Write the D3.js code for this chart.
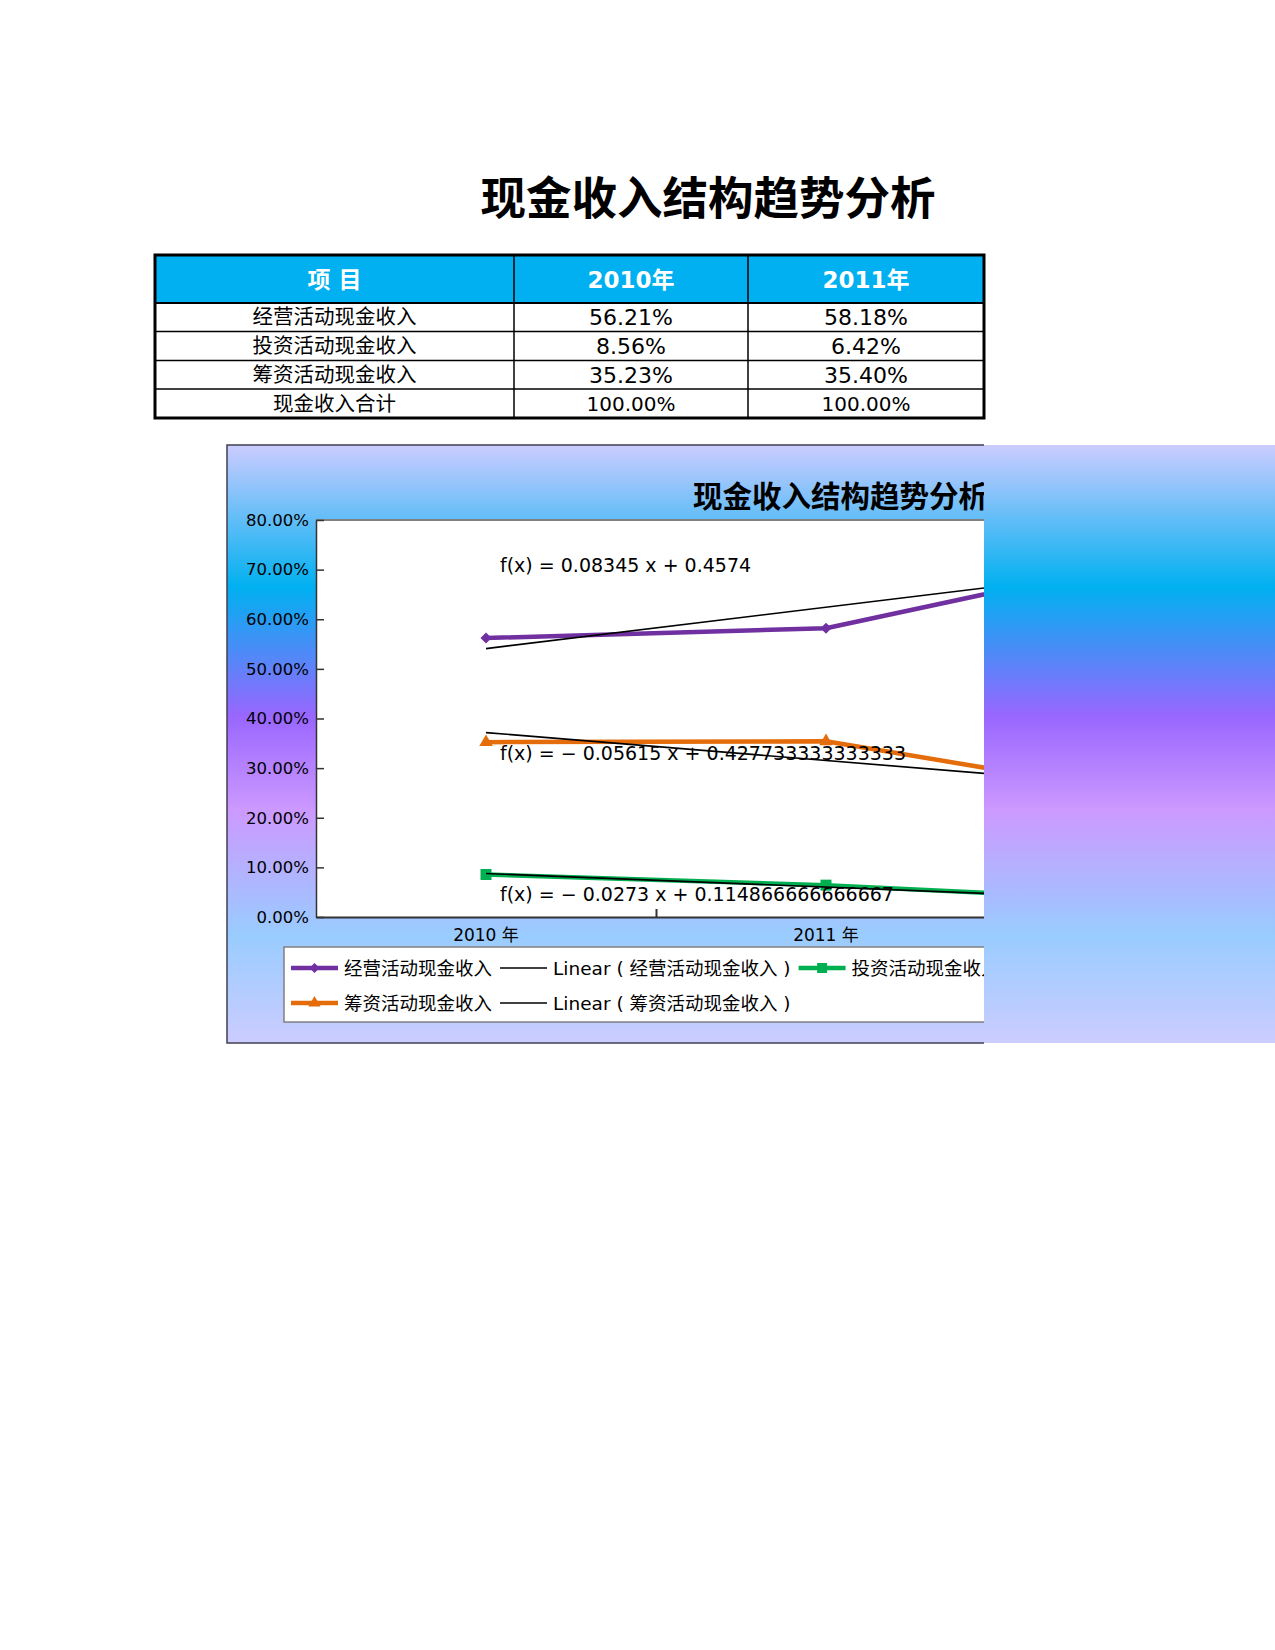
<!DOCTYPE html>
<html>
<head>
<meta charset="utf-8">
<script src="https://cdn.jsdelivr.net/npm/d3@7"></script>
<style>
  body { margin: 0; background: #fff; }
  svg { display: block; }
  text { font-family: "DejaVu Sans", "Noto Sans CJK SC", sans-serif; }
</style>
</head>
<body>
<div id="chart"></div>
<script>
// ---- data ----
var categories = ["2010 年", "2011 年", "2012 年"];
var seriesNames = ["经营活动现金收入", "投资活动现金收入", "筹资活动现金收入"];
var operating = [0.5621, 0.5818, 0.7290];
var investing = [0.0856, 0.0642, 0.0310];
var financing = [0.3523, 0.3540, 0.2400];
var trendSlope = [0.08345, -0.0273, -0.05615];
var trendIntercept = [0.4574, 0.114866666666667, 0.427733333333333];
var trendLabels = [
  "f(x) = 0.08345 x + 0.4574",
  "f(x) = \u2212 0.0273 x + 0.114866666666667",
  "f(x) = \u2212 0.05615 x + 0.427733333333333"
];
var tableYears = ["2010年", "2011年"];
var totalLabel = "现金收入合计";
var totalValues = [1, 1];
var yTicks = [0, 0.1, 0.2, 0.3, 0.4, 0.5, 0.6, 0.7, 0.8];

var seriesValues = [operating, investing, financing];
var colors = ["#7030A0", "#00B050", "#E46C0A"];
var markers = ["diamond", "square", "triangle"];

var width = 1275, height = 1650;
var svg = d3.select("#chart").append("svg").attr("width", width).attr("height", height);
svg.append("rect").attr("width", width).attr("height", height).attr("fill", "#fff");

// ---- page title ----
svg.append("text").attr("x", 708).attr("y", 215).attr("text-anchor", "middle")
  .attr("font-size", 45.5).attr("font-weight", "bold").text("现金收入结构趋势分析");

// ---- table ----
var colX = [155, 514, 748, 984];
var rowY = [255, 303, 331.5, 360.5, 389, 418];
var pct = d3.format(".2%");

var table = svg.append("g");
table.append("rect").attr("x", colX[0]).attr("y", rowY[0])
  .attr("width", colX[3] - colX[0]).attr("height", rowY[1] - rowY[0]).attr("fill", "#00B0F0");

var header = ["项 目"].concat(tableYears);
table.selectAll(".hd").data(header).enter().append("text")
  .attr("x", function(d, i) { return (colX[i] + colX[i + 1]) / 2; })
  .attr("y", (rowY[0] + rowY[1]) / 2 + 9)
  .attr("text-anchor", "middle").attr("fill", "#fff")
  .attr("font-size", 23).attr("font-weight", "bold").text(function(d) { return d; });

var rows = seriesNames.map(function(n, i) {
  return { label: n, values: tableYears.map(function(y, j) { return seriesValues[i][j]; }), big: true };
});
rows.push({ label: totalLabel, values: totalValues, big: false });

rows.forEach(function(r, i) {
  var cy = (rowY[i + 1] + rowY[i + 2]) / 2;
  table.append("text").attr("x", (colX[0] + colX[1]) / 2).attr("y", cy + 7)
    .attr("text-anchor", "middle").attr("font-size", 20.5).text(r.label);
  r.values.forEach(function(v, j) {
    table.append("text").attr("x", (colX[j + 1] + colX[j + 2]) / 2).attr("y", cy + (r.big ? 8 : 7))
      .attr("text-anchor", "middle").attr("font-size", r.big ? 22 : 20).text(pct(v));
  });
});

// grid lines
rowY.slice(1, -1).forEach(function(y, i) {
  table.append("line").attr("x1", colX[0]).attr("x2", colX[3]).attr("y1", y).attr("y2", y)
    .attr("stroke", "#000").attr("stroke-width", i === 0 ? 2 : 1.5);
});
colX.slice(1, -1).forEach(function(x) {
  table.append("line").attr("x1", x).attr("x2", x).attr("y1", rowY[0]).attr("y2", rowY[5])
    .attr("stroke", "#000").attr("stroke-width", 1.5);
});
table.append("rect").attr("x", colX[0]).attr("y", rowY[0])
  .attr("width", colX[3] - colX[0]).attr("height", rowY[5] - rowY[0])
  .attr("fill", "none").attr("stroke", "#000").attr("stroke-width", 3);

// ---- chart ----
var chartLeft = 227, chartTop = 445, chartBottom = 1043, clipRight = 984;
var defs = svg.append("defs");
var grad = defs.append("linearGradient").attr("id", "bg").attr("x1", 0).attr("y1", 0).attr("x2", 0).attr("y2", 1);
[[0, "#ccccff"], [0.238, "#00b0f0"], [0.453, "#9966ff"], [0.61, "#cc99ff"], [0.82, "#99ccff"], [1, "#ccccff"]]
  .forEach(function(s) { grad.append("stop").attr("offset", s[0]).attr("stop-color", s[1]); });
defs.append("clipPath").attr("id", "clip").append("rect")
  .attr("x", 0).attr("y", 0).attr("width", clipRight).attr("height", height);

svg.append("rect").attr("x", chartLeft).attr("y", chartTop)
  .attr("width", width - chartLeft).attr("height", chartBottom - chartTop).attr("fill", "url(#bg)");

var chart = svg.append("g").attr("clip-path", "url(#clip)");
chart.append("rect").attr("x", chartLeft).attr("y", chartTop)
  .attr("width", 1400 - chartLeft).attr("height", chartBottom - chartTop)
  .attr("fill", "none").attr("stroke", "#404050").attr("stroke-width", 1.5);

chart.append("text").attr("x", 693).attr("y", 507).attr("font-size", 29.5)
  .attr("font-weight", "bold").text("现金收入结构趋势分析");

var plotLeft = 316, plotTop = 520, plotBottom = 917, band = 340;
var plotRight = plotLeft + band * categories.length;
var x = d3.scaleBand().domain(categories).range([plotLeft, plotRight]);
var xi = d3.scaleLinear().domain([0.5, categories.length + 0.5]).range([plotLeft, plotRight]);
var y = d3.scaleLinear().domain([0, 0.8]).range([plotBottom, plotTop]);

chart.append("rect").attr("x", plotLeft).attr("y", plotTop)
  .attr("width", plotRight - plotLeft).attr("height", plotBottom - plotTop).attr("fill", "#fff");
chart.append("line").attr("x1", plotLeft).attr("x2", plotRight).attr("y1", plotTop).attr("y2", plotTop)
  .attr("stroke", "#808080").attr("stroke-width", 2);

var yAxis = chart.append("g").attr("transform", "translate(" + plotLeft + ",0)")
  .call(d3.axisLeft(y).tickValues(yTicks).tickFormat(pct).tickSizeInner(-8).tickSizeOuter(0).tickPadding(7));
yAxis.selectAll("text").attr("font-size", 16.5).attr("fill", "#000").attr("font-family", null);
yAxis.selectAll("line, path").attr("stroke", "#333").attr("stroke-width", 1.5);

var xTicks = chart.append("g").attr("transform", "translate(0," + plotBottom + ")")
  .call(d3.axisBottom(xi).tickValues([1.5, 2.5]).tickFormat("").tickSizeInner(-8).tickSizeOuter(0));
xTicks.selectAll("line, path").attr("stroke", "#333").attr("stroke-width", 2);
var xAxis = chart.append("g").attr("transform", "translate(0," + plotBottom + ")")
  .call(d3.axisBottom(x).tickSize(0).tickPadding(12));
xAxis.select("path").remove();
xAxis.selectAll("text").attr("font-size", 17).attr("fill", "#000").attr("font-family", null);

function markerPath(type, r) {
  if (type === "diamond") return "M0," + (-r) + "L" + r + ",0L0," + r + "L" + (-r) + ",0Z";
  if (type === "square") return d3.symbol().type(d3.symbolSquare).size(4 * r * r)();
  return d3.symbol().type(d3.symbolTriangle).size(r * r * 2.6)();
}

var line = d3.line()
  .x(function(d, i) { return x(categories[i]) + x.bandwidth() / 2; })
  .y(function(d) { return y(d); });

seriesValues.forEach(function(vals, s) {
  chart.append("path").datum(vals).attr("d", line).attr("fill", "none")
    .attr("stroke", colors[s]).attr("stroke-width", 4.5).attr("stroke-linejoin", "round");
  chart.selectAll(".m" + s).data(vals).enter().append("path")
    .attr("transform", function(d, i) {
      return "translate(" + (x(categories[i]) + x.bandwidth() / 2) + "," + y(d) + ")";
    })
    .attr("d", markerPath(markers[s], 5.5)).attr("fill", colors[s]);
});

// trend lines from the fitted equations
seriesValues.forEach(function(vals, s) {
  var pts = [1, vals.length].map(function(k) { return [xi(k), y(trendSlope[s] * k + trendIntercept[s])]; });
  chart.append("path").attr("d", d3.line()(pts)).attr("fill", "none")
    .attr("stroke", "#000").attr("stroke-width", 1.6);
});

var labelY = [572, 901, 760];
trendLabels.forEach(function(t, s) {
  chart.append("text").attr("x", 500).attr("y", labelY[s]).attr("font-size", 19).text(t);
});

// ---- legend ----
var legend = chart.append("g");
legend.append("rect").attr("x", 284).attr("y", 947).attr("width", 1100).attr("height", 75)
  .attr("fill", "#fff").attr("stroke", "#808080").attr("stroke-width", 1.5);

var legendRows = [
  [{ s: 0, trend: false }, { s: 0, trend: true }, { s: 1, trend: false }, { s: 1, trend: true }],
  [{ s: 2, trend: false }, { s: 2, trend: true }]
];
legendRows.forEach(function(items, r) {
  var cy = 968 + r * 35, cx = 291;
  items.forEach(function(it) {
    var g = legend.append("g").attr("transform", "translate(" + cx + "," + cy + ")");
    if (it.trend) {
      g.append("line").attr("x1", 0).attr("x2", 47).attr("stroke", "#000").attr("stroke-width", 1.6);
    } else {
      g.append("line").attr("x1", 0).attr("x2", 47).attr("stroke", colors[it.s]).attr("stroke-width", 4.5);
      g.append("path").attr("transform", "translate(23.5,0)")
        .attr("d", markerPath(markers[it.s], 5)).attr("fill", colors[it.s]);
    }
    var label = it.trend ? "Linear ( " + seriesNames[it.s] + " )" : seriesNames[it.s];
    var t = g.append("text").attr("x", 53).attr("y", 6.5).attr("font-size", 18.5).text(label);
    cx += 53 + t.node().getComputedTextLength() + 8;
  });
});
</script>
</body>
</html>
